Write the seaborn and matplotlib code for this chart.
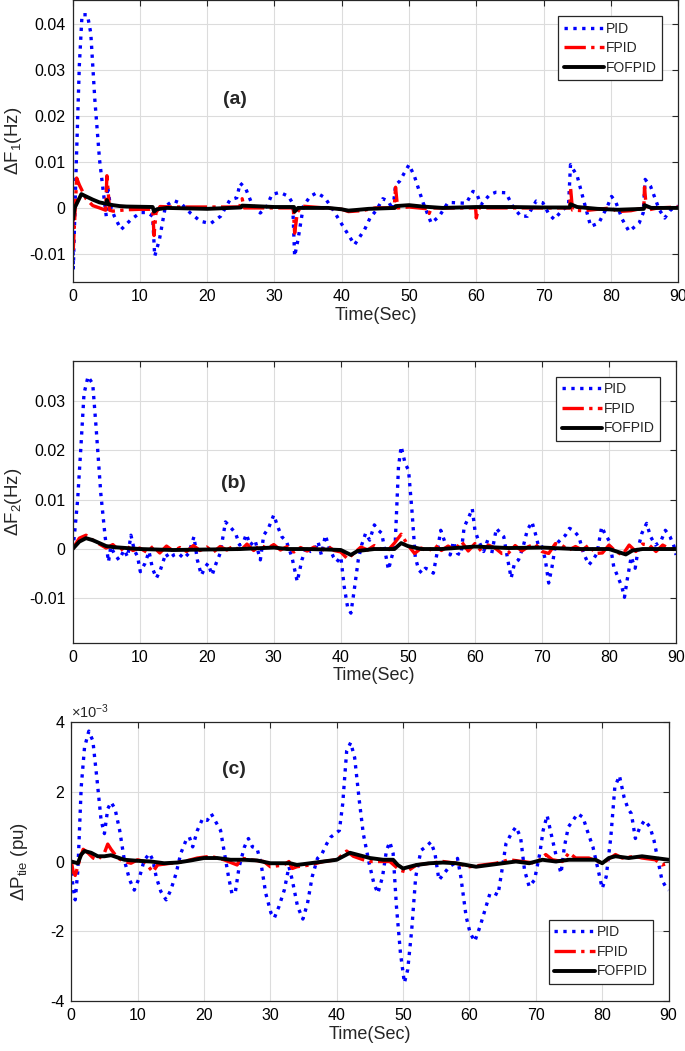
import numpy as np
import pandas as pd
import matplotlib
matplotlib.use("Agg")
import matplotlib.pyplot as plt
import seaborn as sns

# ---------------- panel (a): delta F1 (Hz) ----------------
t_a_pid = [0, 0.1, 0.5, 1.0, 1.4, 2.2, 2.7, 3.3, 4.0, 4.7, 5.0, 5.2, 5.6, 6.2, 7.2, 8.7, 10.1,
           11.1, 11.9, 12.2, 12.9, 13.8, 15.0, 16.1, 17.5, 19.0, 20.5, 22.0, 23.4, 24.4, 24.9,
           25.7, 26.7, 27.9, 28.9, 29.6, 30.8, 32.1, 32.7, 33.0, 33.5, 34.3, 35.3, 36.3, 37.5,
           38.7, 40.2, 41.9, 43.4, 44.2, 45.2, 46.1, 46.9, 47.6, 48.0, 48.6, 50.0, 50.8, 52.1,
           53.3, 54.5, 55.8, 57.3, 58.5, 59.5, 60.0, 60.7, 62.0, 62.9, 64.4, 65.4, 66.6, 67.6,
           68.9, 69.9, 70.8, 71.6, 72.8, 73.7, 74.0, 75.0, 75.8, 77.0, 78.2, 79.5, 80.1, 80.7,
           81.7, 82.7, 84.2, 84.8, 85.1, 85.9, 87.2, 88.0, 88.9, 90.0]
f1_pid = [0, -13.4, 7.6, 31.0, 42.0, 42.0, 38.0, 23.6, 10.5, 1.8, -1.8, 4.7, 0.5, -1.8, -4.7,
          -2.5, -1.0, -1.0, -1.8, -10.5, -6.9, 0.4, 1.6, 1.0, -1.1, -2.9, -3.4, -1.8, 1.8, 2.2,
          5.4, 4.3, 0.7, -1.1, 0.4, 2.9, 3.4, 2.5, 1.0, -10.5, -6.9, 0.4, 2.5, 3.3, 2.2, -0.4,
          -4.0, -8.0, -4.7, -2.2, -0.4, 2.0, 1.5, -0.4, 5.0, 5.8, 9.4, 6.9, 1.1, -3.3, -1.8,
          1.2, 1.1, 1.0, 3.6, 3.3, 0.7, 2.9, 3.4, 3.3, 0.4, -1.8, -1.8, 1.5, 1.1, -1.4, -2.5,
          -0.4, 0.4, 9.4, 6.9, 2.5, -4.0, -3.3, 0.4, 2.5, 1.4, -2.5, -5.1, -3.3, -1.1, 6.2, 4.7,
          -0.4, -2.2, -0.4, 0.4]

t_a_fpid = [0, 0.1, 0.6, 1.0, 2.0, 3.0, 4.0, 4.9, 5.1, 5.5, 6.0, 8.0, 10.0, 11.9, 12.1, 12.4,
            13.0, 15.0, 24.8, 25.2, 25.5, 32.8, 33.0, 33.4, 34.0, 40.0, 41.0, 43.0, 45.0, 47.8,
            48.0, 48.3, 50.0, 52.8, 53.0, 53.3, 55.0, 59.9, 60.0, 60.3, 70.0, 73.9, 74.0, 74.3,
            76.0, 80.0, 81.0, 83.0, 84.9, 85.0, 85.3, 87.0, 90.0]
f1_fpid = [0, -9.0, 6.5, 5.0, 2.0, 0.5, 0.0, -0.5, 7.0, -0.5, -0.7, -0.4, -0.3, -0.3, -6.0,
           -1.0, 0.3, 0.2, 0.2, 2.0, 0.0, 0.0, -5.5, -1.0, 0.4, -0.3, -0.8, -0.6, 0.0, 0.0, 4.5,
           0.0, 0.2, -0.2, -1.2, 0.0, 0.0, 0.0, -2.2, 0.0, 0.0, 0.0, 4.5, -0.5, -0.6, 0.0, -0.8,
           -0.6, 0.0, 4.5, -0.5, 0.0, 0.2]

t_a_fof = [0, 0.05, 0.3, 1.3, 2.0, 3.0, 4.0, 5.0, 5.1, 5.3, 6.0, 7.0, 8.0, 11.9, 12.1, 12.5,
           14.0, 20.0, 25.0, 25.2, 30.0, 32.9, 33.0, 33.5, 38.0, 40.0, 41.0, 44.0, 47.9, 48.0,
           50.0, 52.0, 55.0, 60.0, 65.0, 70.0, 73.9, 74.0, 75.0, 78.0, 81.0, 84.9, 85.0, 86.0,
           90.0]
f1_fof = [0, -2.5, 0.0, 3.0, 2.5, 1.8, 1.2, 0.9, 1.7, 0.8, 0.6, 0.4, 0.3, 0.2, -0.8, -0.3, 0.0,
          -0.2, 0.1, 0.5, 0.2, 0.2, -0.8, 0.0, 0.0, -0.3, -0.6, -0.2, 0.0, 0.4, 0.6, 0.3, 0.0,
          0.2, 0.2, 0.1, 0.1, 0.8, 0.2, -0.2, -0.4, -0.2, 0.6, 0.0, 0.0]

# ---------------- panel (b): delta F2 (Hz) ----------------
t_b_pid = [0, 0.25, 0.75, 1.25, 1.7, 2.3, 3.0, 3.5, 4.2, 4.85, 5.35, 5.7, 6.2, 6.9, 7.7, 8.2,
           8.7, 9.2, 9.7, 10.1, 10.8, 11.4, 11.9, 12.5, 13.1, 13.9, 14.4, 15.1, 15.8, 16.6, 17.3,
           18.1, 18.6, 19.2, 19.8, 20.2, 20.8, 21.4, 22.0, 22.8, 23.5, 24.3, 24.9, 25.5, 25.9,
           26.5, 27.2, 28.0, 28.5, 29.2, 30.0, 30.6, 31.2, 31.9, 32.7, 33.5, 34.2, 34.9, 35.5,
           36.1, 36.6, 37.1, 37.7, 38.2, 38.9, 39.4, 40.0, 40.5, 41.0, 41.5, 42.0, 42.6, 43.1,
           43.7, 44.3, 45.0, 45.6, 46.1, 46.6, 47.1, 47.6, 48.1, 48.6, 49.0, 49.6, 50.1, 50.6,
           51.1, 51.6, 52.1, 52.6, 53.2, 53.8, 54.3, 54.9, 55.6, 56.3, 56.8, 57.4, 57.9, 58.4,
           59.1, 59.6, 60.0, 60.5, 61.3, 61.9, 62.5, 63.2, 63.8, 64.3, 64.9, 65.4, 65.9, 66.5,
           67.2, 67.8, 68.5, 69.0, 69.5, 70.0, 70.5, 71.0, 71.5, 72.0, 72.7, 73.5, 74.1, 74.7,
           75.5, 76.2, 77.0, 77.6, 78.2, 78.9, 79.5, 80.1, 80.7, 81.3, 81.9, 82.3, 82.7, 83.3,
           83.9, 84.4, 84.9, 85.6, 86.2, 86.9, 87.7, 88.4, 89.1, 89.7, 90.0]
f2_pid = [0, 2.5, 10.0, 21.0, 31.5, 35.0, 33.5, 24.7, 11.3, 2.5, -2.6, 0.5, -0.9, -2.2, -0.2,
          -1.6, 2.8, -0.2, -1.6, -4.6, -2.9, -0.5, -3.9, -5.9, -4.2, -0.9, -1.9, -1.2, -0.9,
          -1.9, -0.9, 2.5, -2.2, -5.3, -3.6, -2.9, -5.3, -2.9, -0.9, 5.5, 4.5, 3.2, 0.8, 1.5,
          3.0, 0.8, 1.8, -2.2, 2.8, 4.2, 6.9, 4.5, 2.5, 1.5, -1.6, -6.6, -2.2, 0.5, -0.5, -0.2,
          1.5, -1.2, 2.8, 0.5, -1.6, -2.6, -1.6, -7.6, -11.7, -13.0, -8.3, -2.2, 0.8, 3.2, 1.8,
          4.9, 3.8, 3.2, -0.5, -4.2, -1.6, 0.8, 16.7, 20.8, 17.3, 16.0, 7.9, -1.6, -4.2, -4.9,
          -3.9, -4.2, -4.9, -1.2, 3.8, 1.1, -1.2, 1.5, -0.9, -1.2, 4.5, 6.5, 8.2, 3.8, 1.8,
          -0.5, 1.8, -0.9, 4.2, 3.2, 2.5, -2.2, -5.9, -2.9, -2.2, 0.5, 3.8, 5.5, 3.2, 0.5, 0.5,
          -2.2, -6.9, -3.6, 0.8, 1.8, 2.8, 4.2, 3.8, 2.5, -0.9, -3.2, -2.2, -0.9, 4.5, 2.8, 1.5,
          -3.6, -5.6, -7.6, -9.8, -6.3, -1.6, -3.9, 0.5, 3.2, 5.2, 2.5, 0.8, 1.5, 3.8, 2.5, 0.5,
          -1.2]

t_b_fpid = list(range(0, 91))
f2_fpid = [0.0, 2.2, 2.8, 1.8, 1.0, 0.2, 0.9, -0.4, 0.6, -0.3, 0.2, -0.6, 0.5, -0.8, 0.6,
           -0.4, 0.3, -0.5, 0.7, -0.3, 0.4, -0.6, 0.5, -0.2, 0.6, -0.4, 1.0, -0.3, 0.8, 0.1,
           0.9, -0.2, 0.5, -0.6, 0.3, -0.4, 0.4, -0.5, 0.6, -0.3, -0.6, -2.0, -0.8, 0.4, -0.2,
           0.7, 0.0, -0.3, 1.2, 3.0, 0.8, -0.9, 0.2, -0.5, 0.8, -0.3, 0.6, -0.2, 1.5, -0.4, 1.1,
           -0.5, 0.8, 0.2, -0.9, -0.8, 0.7, -0.4, 0.5, 1.0, -0.5, -0.9, 1.1, 0.7, -0.2, 0.5,
           -0.2, 0.8, -0.9, -0.8, 0.8, -0.5, -1.2, 0.8, -0.5, 1.0, 0.8, -0.5, 0.8, 0.1, -0.2]

t_b_fof = [0, 1, 2, 3, 4, 5, 6, 8, 10, 15, 20, 25, 30, 32, 35, 38, 40, 41.5, 42.5, 45, 48, 49,
           50, 52, 55, 60, 65, 70, 75, 80, 82.5, 83.5, 85, 90]
f2_fof = [0, 1.5, 2.2, 1.8, 1.2, 0.6, 0.4, 0.2, 0.0, -0.2, -0.1, 0.0, 0.3, 0.0, 0.0, -0.1,
          -0.2, -1.2, -0.4, 0.0, 0.0, 1.2, 0.6, 0.0, 0.0, 0.5, 0.2, 0.3, 0.0, 0.0, -1.1, -0.3,
          0.0, 0.0]

# ---------------- panel (c): delta Ptie (pu), x1e-3 ----------------
t_c_pid = [0, 0.25, 0.6, 1.0, 1.5, 2.0, 2.65, 3.26, 3.9, 4.5, 5.0, 5.5, 6.0, 6.6, 7.3, 8.0, 8.8,
           9.5, 10.3, 11.0, 11.8, 12.3, 12.8, 13.5, 14.3, 15.0, 15.8, 16.5, 17.3, 17.8, 18.3,
           19.0, 19.8, 20.5, 21.1, 21.8, 22.5, 23.1, 23.7, 24.2, 24.7, 25.3, 26.1, 26.7, 27.3,
           28.0, 28.6, 29.3, 30.1, 30.6, 31.3, 32.1, 32.8, 33.3, 34.1, 34.9, 35.6, 36.3, 37.1,
           37.8, 38.5, 39.1, 39.8, 40.4, 40.9, 41.5, 42.1, 42.7, 43.4, 44.0, 44.9, 45.6, 46.2,
           46.9, 47.5, 48.0, 48.5, 49.0, 49.6, 50.2, 50.7, 51.3, 51.9, 52.7, 53.4, 54.2, 54.8,
           55.4, 56.2, 56.95, 57.7, 58.2, 58.7, 59.5, 60.1, 60.8, 61.6, 62.5, 63.1, 63.75, 64.3,
           64.9, 65.5, 66.3, 67.0, 67.7, 68.3, 69.0, 69.8, 70.6, 71.1, 71.7, 72.3, 73.1, 73.8,
           74.3, 74.9, 75.6, 76.3, 77.1, 77.9, 78.6, 79.4, 80.0, 80.6, 81.3, 81.9, 82.6, 83.3,
           83.9, 84.4, 85.0, 85.7, 86.4, 87.2, 87.8, 88.4, 89.0, 89.7, 90.0]
ptie_pid = [-0.06, -0.72, -1.1, -0.25, 2.13, 3.27, 3.74, 3.46, 2.32, 1.18, 0.8, 1.51, 1.7,
            1.51, 0.89, 0.04, -0.53, -0.82, -0.44, 0.04, 0.23, 0.04, -0.44, -0.86, -1.1, -0.82,
            -0.34, 0.23, 0.61, 0.7, 0.42, 0.89, 1.23, 1.18, 1.37, 1.13, 0.89, 0.23, -0.44,
            -0.91, -0.91, -0.15, 0.42, 0.66, 0.42, 0.37, -0.06, -0.91, -1.48, -1.62, -1.29,
            -0.82, -0.15, -0.53, -1.29, -1.65, -1.2, -0.44, 0.09, 0.23, 0.51, 0.7, 0.8, 0.89,
            1.65, 3.17, 3.41, 2.98, 1.75, 0.8, -0.06, -0.63, -0.91, -0.44, 0.32, 0.56, 0.23,
            -1.29, -2.62, -3.48, -3.1, -1.96, -0.44, 0.32, 0.42, 0.56, 0.23, -0.53, -0.34,
            -0.15, -0.06, 0.09, -0.44, -1.58, -2.05, -2.29, -1.86, -1.29, -0.91, -0.91, -0.96,
            -0.25, 0.51, 0.8, 0.99, 0.7, -0.25, -0.72, -0.53, 0.23, 0.89, 1.32, 0.8, 0.13,
            -0.34, 0.42, 0.99, 1.18, 1.37, 1.27, 0.8, 0.42, -0.25, -0.77, -0.44, 0.7, 2.13,
            2.46, 1.84, 1.51, 1.37, 0.66, 0.99, 1.18, 0.99, 0.61, 0.04, -0.53, -0.77, -0.82]

t_c_fpid = [0, 0.3, 0.6, 1.2, 1.8, 2.5, 3.3, 4, 5, 5.5, 6, 7, 8, 9, 10, 11, 12.3, 13, 15, 17,
            19, 21, 23, 25, 25.5, 27, 29, 30, 32, 32.8, 33.3, 34, 36, 38, 40, 41.5, 42.5, 44,
            45, 48, 49.5, 50.5, 52, 54, 56, 58, 60, 62, 64, 66, 68, 70, 71.5, 72.5, 74, 75, 76,
            78, 80, 82, 83, 85, 86, 88, 89, 90]
ptie_fpid = [0, -0.3, -0.4, 0.0, 0.35, 0.25, 0.1, 0.05, 0.25, 0.5, 0.35, 0.1, 0.0, -0.05,
             0.05, 0.0, -0.3, -0.1, -0.05, 0.0, 0.1, 0.15, 0.05, -0.1, 0.1, 0.05, 0.0, -0.15,
             -0.1, 0.0, -0.2, -0.15, -0.1, 0.0, 0.05, 0.3, 0.15, 0.05, 0.0, 0.0, -0.25, -0.3,
             -0.1, -0.05, 0.0, -0.05, -0.15, -0.1, -0.05, 0.05, 0.0, -0.05, 0.2, 0.05, 0.0,
             0.25, 0.1, 0.1, -0.05, 0.2, 0.1, 0.15, 0.1, 0.05, -0.1, -0.05]

t_c_fof = [0, 1, 1.5, 2, 3, 4, 5, 6, 8, 10, 12, 14, 16, 18, 20, 22, 24, 26, 28, 30, 32, 33, 34,
           36, 38, 40, 41, 42, 43, 45, 47, 48.5, 49.2, 50, 52, 54, 56, 58, 59.5, 61, 63, 65,
           67, 69, 71, 73, 75, 77, 79, 80, 81, 82, 84, 86, 88, 90]
ptie_fof = [0, -0.05, 0.2, 0.3, 0.25, 0.15, 0.15, 0.18, 0.05, 0.02, 0.0, -0.05, -0.03, 0.03,
            0.1, 0.1, 0.05, 0.05, 0.03, -0.05, -0.05, -0.05, -0.1, -0.05, 0.0, 0.05, 0.15,
            0.25, 0.2, 0.1, 0.05, 0.05, -0.1, -0.2, -0.1, -0.05, -0.03, -0.05, -0.1, -0.15,
            -0.1, -0.05, 0.0, -0.05, 0.05, 0.0, 0.05, 0.05, 0.05, -0.05, 0.1, 0.15, 0.1, 0.15,
            0.1, 0.05]

labels = ['PID', 'FPID', 'FOFPID']

sns.set_style('white')
plt.rcParams['font.family'] = ['Liberation Sans', 'DejaVu Sans']
plt.rcParams['axes.unicode_minus'] = False
plt.rcParams['mathtext.fontset'] = 'custom'
plt.rcParams['mathtext.rm'] = 'Liberation Sans'
plt.rcParams['mathtext.it'] = 'Liberation Sans'


def draw(ax, series, scale):
    styles = [('#0000ff', ':', 2.4), ('#ff0000', '-.', 2.4), ('#000000', '-', 2.8)]
    for (t, y), lab, (c, ls, lw) in zip(series, labels, styles):
        d = pd.DataFrame({'t': t, 'y': np.array(y) * scale})
        sns.lineplot(data=d, x='t', y='y', ax=ax, color=c, linestyle=ls, lw=lw,
                     label=lab, estimator=None, sort=False)


fig = plt.figure(figsize=(6.85, 10.51), dpi=100)
ax1 = fig.add_axes([0.106, 0.7317, 0.884, 0.2683])
ax2 = fig.add_axes([0.106, 0.3885, 0.881, 0.2683])
ax3 = fig.add_axes([0.104, 0.0476, 0.872, 0.2654])

draw(ax1, [(t_a_pid, f1_pid), (t_a_fpid, f1_fpid), (t_a_fof, f1_fof)], 1e-3)
draw(ax2, [(t_b_pid, f2_pid), (t_b_fpid, f2_fpid), (t_b_fof, f2_fof)], 1e-3)
draw(ax3, [(t_c_pid, ptie_pid), (t_c_fpid, ptie_fpid), (t_c_fof, ptie_fof)], 1.0)

ax1.set_ylim(-0.0161, 0.0452)
ax1.set_yticks([-0.01, 0, 0.01, 0.02, 0.03, 0.04])
ax2.set_ylim(-0.019, 0.0382)
ax2.set_yticks([-0.01, 0, 0.01, 0.02, 0.03])
ax3.set_ylim(-4, 4)
ax3.set_yticks([-4, -2, 0, 2, 4])

for ax in [ax1, ax2, ax3]:
    ax.set_xlim(0, 90)
    ax.set_xticks(range(0, 91, 10))
    ax.yaxis.set_major_formatter(plt.FuncFormatter(lambda v, p: '%g' % round(v, 6)))
    ax.grid(True, color='#dcdcdc', lw=0.8)
    ax.tick_params(direction='in', top=True, right=True, length=4, width=0.8,
                   labelsize=11.5, pad=5, colors='#262626', labelcolor='black')
    for s in ax.spines.values():
        s.set_color('#262626')
        s.set_linewidth(0.9)
    ax.set_xlabel('Time(Sec)', fontsize=13, labelpad=2)

ax1.set_ylabel(r'$\Delta$F$_{1}$(Hz)', fontsize=13.5, labelpad=4)
ax2.set_ylabel(r'$\Delta$F$_{2}$(Hz)', fontsize=13.5, labelpad=4)
ax3.set_ylabel(r'$\Delta$P$_{\rm tie}$ (pu)', fontsize=13.5, labelpad=14)
ax3.text(0.0, 1.005, r'$\times$10$^{-3}$', transform=ax3.transAxes, fontsize=10.5,
         ha='left', va='bottom')

ax1.text(24.1, 0.0235, '(a)', fontsize=14, fontweight='bold', ha='center', va='center')
ax2.text(24.0, 0.0132, '(b)', fontsize=14, fontweight='bold', ha='center', va='center')
ax3.text(24.5, 2.64, '(c)', fontsize=14, fontweight='bold', ha='center', va='center')

leg_kw = dict(fontsize=10, fancybox=False, framealpha=1, edgecolor='#262626',
              borderaxespad=0, handlelength=2.9, handletextpad=0.15, labelspacing=0.4,
              borderpad=0.4)
ax1.legend(loc='upper right', bbox_to_anchor=(0.974, 0.943), **leg_kw)
ax2.legend(loc='upper right', bbox_to_anchor=(0.974, 0.943), **leg_kw)
ax3.legend(loc='lower right', bbox_to_anchor=(0.974, 0.061), **leg_kw)
for ax in [ax1, ax2, ax3]:
    ax.get_legend().get_frame().set_linewidth(0.9)

fig.savefig('out.png', dpi=100)
